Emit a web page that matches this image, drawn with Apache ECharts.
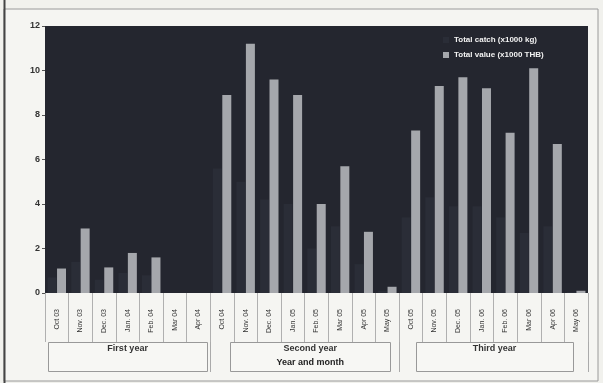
<!DOCTYPE html>
<html>
<head>
<meta charset="utf-8">
<script src="https://cdn.jsdelivr.net/npm/echarts@6/dist/echarts.min.js"></script>
<style>
  html, body { margin: 0; padding: 0; background: #f1f1ed; }
  #chart { width: 603px; height: 383px; }
</style>
</head>
<body>
<div id="chart"></div>
<script>
// months shown on the x axis, grouped by survey year
const months = [
  "Oct 03", "Nov. 03", "Dec. 03", "Jan. 04", "Feb. 04", "Mar 04", "Apr 04",
  "Oct 04", "Nov. 04", "Dec. 04", "Jan. 05", "Feb. 05", "Mar 05", "Apr 05", "May 05",
  "Oct 05", "Nov. 05", "Dec. 05", "Jan. 06", "Feb. 06", "Mar 06", "Apr 06", "May 06"
];
const groups = ["First year", "Second year", "Third year"];
const groupSizes = [7, 8, 8];

// total catch (x1000 kg) - dark bars, barely visible on the plot
const totalCatch = [
  0.7, 1.4, 0.6, 0.9, 0.8, 0, 0,
  5.6, 5.0, 4.2, 4.0, 2.0, 3.0, 1.3, 0.1,
  3.4, 4.3, 3.9, 3.9, 3.4, 2.7, 3.0, 0.05
];
// total value (x1000 THB)
const totalValue = [
  1.1, 2.9, 1.15, 1.8, 1.6, 0, 0,
  8.9, 11.2, 9.6, 8.9, 4.0, 5.7, 2.75, 0.28,
  7.3, 9.3, 9.7, 9.2, 7.2, 10.1, 6.7, 0.1
];
const yTicks = { min: 0, max: 12, interval: 2 };

const chart = echarts.init(document.getElementById("chart"));

const gridLeft = 45, gridRight = 588, axisY = 293;
const catW = (gridRight - gridLeft) / months.length;

// frame, boxes and long separators under the axis
const graphics = [
  {
    type: "rect",
    shape: { x: 4, y: 9, width: 594, height: 372 },
    style: { fill: "#f5f5f2", stroke: "#9a9a9a", lineWidth: 1 },
    z: -10
  },
  {
    type: "line",
    shape: { x1: 4.5, y1: 0, x2: 4.5, y2: 383 },
    style: { stroke: "#444", lineWidth: 2 },
    z: -9
  }
];
let start = 0;
const boxInsets = [[3, 3], [20, 9], [17, 15]];
groupSizes.forEach((n, i) => {
  const x0 = gridLeft + start * catW;
  const x1 = gridLeft + (start + n) * catW;
  graphics.push({
    type: "line",
    shape: { x1: Math.round(x1) + 0.5, y1: axisY, x2: Math.round(x1) + 0.5, y2: 372 },
    style: { stroke: "#aaa", lineWidth: 1 }
  });
  const bx = x0 + boxInsets[i][0];
  const bw = x1 - boxInsets[i][1] - bx;
  graphics.push({
    type: "rect",
    shape: { x: Math.round(bx) + 0.5, y: 342.5, width: Math.round(bw), height: 29 },
    style: { fill: "#f7f7f4", stroke: "#999", lineWidth: 1 }
  });
  graphics.push({
    type: "text",
    x: bx + bw / 2,
    y: 349,
    style: {
      text: groups[i],
      fill: "#333",
      font: "bold 9px 'Liberation Sans', Arial, sans-serif",
      align: "center",
      verticalAlign: "middle"
    }
  });
  if (i === 1) {
    graphics.push({
      type: "text",
      x: bx + bw / 2,
      y: 363,
      style: {
        text: "Year and month",
        fill: "#222",
        font: "bold 9px 'Liberation Sans', Arial, sans-serif",
        align: "center",
        verticalAlign: "middle"
      }
    });
  }
  start += n;
});

chart.setOption({
  animation: false,
  backgroundColor: "#f1f1ed",
  grid: {
    left: gridLeft,
    right: 603 - gridRight,
    top: 26,
    bottom: 383 - axisY,
    show: true,
    backgroundColor: "#24262f",
    borderWidth: 0
  },
  legend: {
    orient: "vertical",
    left: 438,
    top: 31,
    itemWidth: 6,
    itemHeight: 6,
    itemGap: 7,
    icon: "rect",
    textStyle: {
      color: "#f2f2f2",
      fontSize: 8,
      fontWeight: "bold",
      fontFamily: "'Liberation Sans', Arial, sans-serif"
    },
    data: ["Total catch (x1000 kg)", "Total value (x1000 THB)"]
  },
  xAxis: {
    type: "category",
    data: months,
    axisLine: { show: false },
    axisTick: {
      show: true,
      inside: false,
      length: 49,
      lineStyle: { color: "#b0b0b0" }
    },
    axisLabel: {
      rotate: 90,
      margin: 16,
      fontSize: 7,
      color: "#333",
      fontFamily: "'Liberation Sans', Arial, sans-serif",
      interval: 0
    }
  },
  yAxis: {
    type: "value",
    min: yTicks.min,
    max: yTicks.max,
    interval: yTicks.interval,
    splitLine: { show: false },
    axisLine: { show: false },
    axisTick: { show: true, length: 3, lineStyle: { color: "#555" } },
    axisLabel: {
      color: "#333",
      fontSize: 9,
      fontWeight: "bold",
      margin: 5,
      fontFamily: "'Liberation Sans', Arial, sans-serif"
    }
  },
  series: [
    {
      name: "Total catch (x1000 kg)",
      type: "bar",
      data: totalCatch,
      barWidth: 9,
      barGap: "5%",
      itemStyle: { color: "#2a2d37" }
    },
    {
      name: "Total value (x1000 THB)",
      type: "bar",
      data: totalValue,
      barWidth: 9,
      itemStyle: { color: "#a5a7ac" }
    }
  ],
  graphic: graphics
});
</script>
</body>
</html>
